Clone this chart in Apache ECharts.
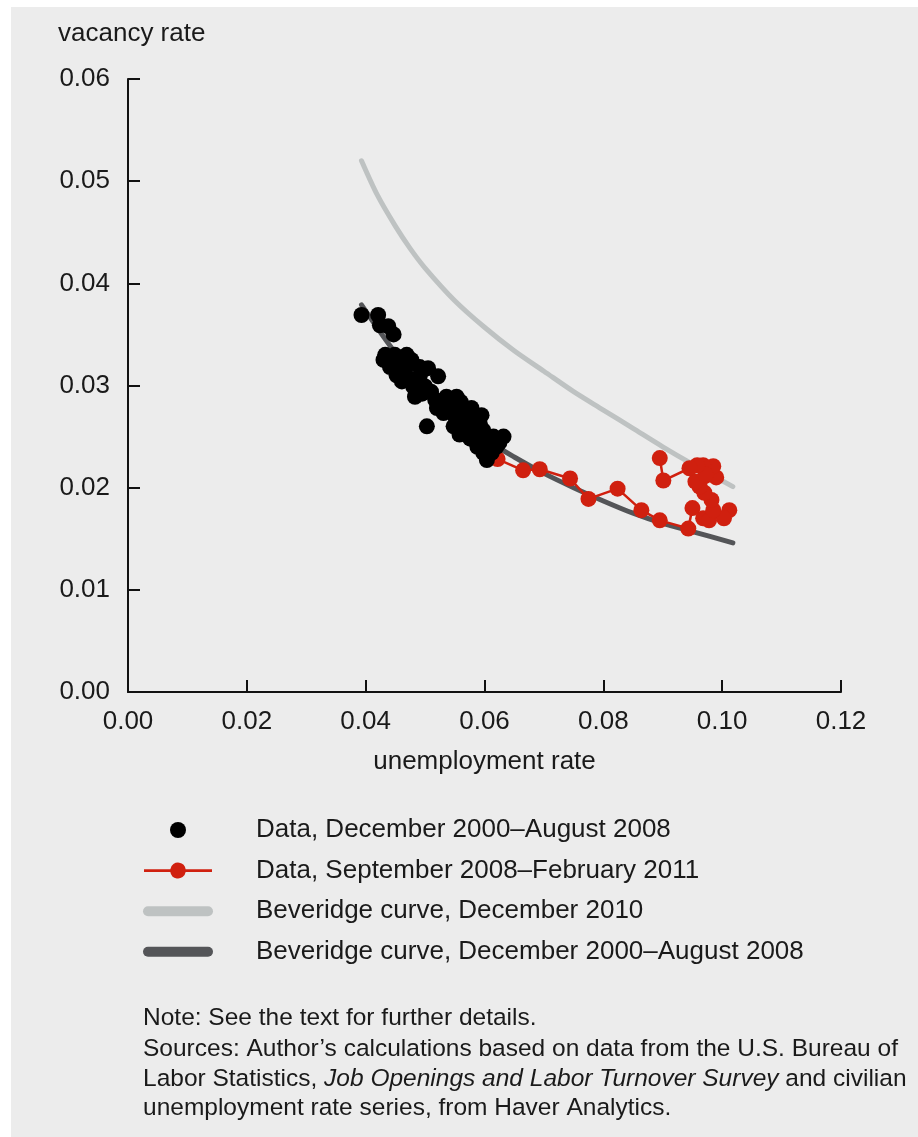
<!DOCTYPE html>
<html>
<head>
<meta charset="utf-8">
<script src="https://cdn.jsdelivr.net/npm/echarts@6/dist/echarts.min.js"></script>
<style>
html,body{margin:0;padding:0;background:#ffffff;}
#bg{position:absolute;left:11px;top:7px;width:907px;height:1130px;background:#ececec;}
#chart{position:absolute;left:0;top:0;width:918px;height:1137px;}
</style>
</head>
<body>
<div id="bg"></div>
<div id="chart"></div>
<script>
// ---- data ----
const seriesNames = [
  'Data, December 2000\u2013August 2008',
  'Data, September 2008\u2013February 2011',
  'Beveridge curve, December 2010',
  'Beveridge curve, December 2000\u2013August 2008'
];

// black points: unemployment rate, vacancy rate (Dec 2000 - Aug 2008)
const blackU = [0.0393,0.0421,0.0424,0.0438,0.0447,0.0433,0.0449,0.0469,0.0477,0.0441,0.0458,0.0491,0.0505,0.0469,0.0491,0.0522,0.0461,0.0480,0.0500,0.0483,0.0517,0.0536,0.0553,0.0520,0.0542,0.0562,0.0578,0.0531,0.0550,0.0576,0.0595,0.0592,0.0548,0.0564,0.0581,0.0598,0.0576,0.0592,0.0615,0.0632,0.0604,0.0620,0.0598,0.0612,0.0604,0.0503,
  0.0430,0.0455,0.0470,0.0452,0.0475,0.0495,0.0510,0.0528,0.0545,0.0560,0.0570,0.0585,0.0558,0.0572,0.0608,0.0625,0.0588];
const blackV = [0.0369,0.0369,0.0359,0.0358,0.0350,0.0330,0.0330,0.0330,0.0325,0.0318,0.0315,0.0318,0.0317,0.0309,0.0309,0.0309,0.0304,0.0299,0.0299,0.0289,0.0286,0.0289,0.0289,0.0278,0.0281,0.0278,0.0278,0.0273,0.0270,0.0271,0.0271,0.0263,0.0260,0.0256,0.0256,0.0256,0.0248,0.0247,0.0250,0.0250,0.0240,0.0240,0.0234,0.0234,0.0227,0.0260,
  0.0325,0.0322,0.0320,0.0310,0.0305,0.0292,0.0294,0.0282,0.0275,0.0284,0.0266,0.0266,0.0252,0.0260,0.0246,0.0244,0.0240];

// red points in time order (Sep 2008 - Feb 2011)
const redU = [0.0622,0.0665,0.0693,0.0744,0.0775,0.0824,0.0864,0.0895,0.0943,0.0950,0.0968,0.0978,0.1012,0.1003,0.0985,0.0982,0.0970,0.0962,0.0990,0.0985,0.0968,0.0955,0.0972,0.0958,0.0945,0.0901,0.0895];
const redV = [0.0228,0.0217,0.0218,0.0209,0.0189,0.0199,0.0178,0.0168,0.0160,0.0180,0.0170,0.0168,0.0178,0.0170,0.0178,0.0188,0.0195,0.0201,0.0210,0.0221,0.0222,0.0206,0.0213,0.0222,0.0219,0.0207,0.0229];

// Beveridge curve, December 2010 (light grey)
const lightU = [0.0393,0.0420,0.0450,0.0475,0.0500,0.0550,0.0600,0.0650,0.0700,0.0750,0.0800,0.0850,0.0900,0.0950,0.1018];
const lightV = [0.0520,0.0486,0.0456,0.0434,0.0415,0.0383,0.0357,0.0334,0.0314,0.0294,0.0276,0.0258,0.0240,0.0223,0.0201];

// Beveridge curve, December 2000 - August 2008 (dark grey)
const darkU = [0.0393,0.0450,0.0500,0.0550,0.0600,0.0650,0.0700,0.0750,0.0800,0.0850,0.0900,0.0950,0.1018];
const darkV = [0.0379,0.0332,0.0298,0.0271,0.0248,0.0230,0.0214,0.0200,0.0187,0.0175,0.0165,0.0157,0.0146];

const xAxisName = 'unemployment rate';
const yAxisName = 'vacancy rate';
const noteLines = [
  'Note: See the text for further details.',
  'Sources: Author\u2019s calculations based on data from the U.S. Bureau of',
  'Labor Statistics, {i|Job Openings and Labor Turnover Survey} and civilian',
  'unemployment rate series, from Haver Analytics.'
];

// ---- build ----
const zip = (a, b) => a.map((v, i) => [v, b[i]]);
const FONT = '"Liberation Sans", Arial, Helvetica, sans-serif';
const TXT = '#1a1a1a';
const RED = '#d0200f';

const chart = echarts.init(document.getElementById('chart'), null, {renderer: 'canvas'});

const stadium = 'path://M5,0 L65,0 A5,5 0 0 1 65,10 L5,10 A5,5 0 0 1 5,0 Z';
const lineDot = 'path://M0,6.5 L27.1,6.5 A8,8 0 0 1 42.9,6.5 L70,6.5 L70,9.5 L42.9,9.5 A8,8 0 0 1 27.1,9.5 L0,9.5 Z';

const option = {
  backgroundColor: 'transparent',
  animation: false,
  title: {
    text: yAxisName,
    left: 53, top: 16,
    textStyle: {fontFamily: FONT, fontSize: 26, fontWeight: 'normal', color: TXT}
  },
  grid: {left: 128, right: 77, top: 79, bottom: 445, containLabel: false},
  xAxis: {
    type: 'value', min: 0, max: 0.12, interval: 0.02,
    name: xAxisName, nameLocation: 'middle', nameGap: 57,
    nameTextStyle: {fontFamily: FONT, fontSize: 26, color: TXT},
    axisLine: {show: true, onZero: false, lineStyle: {color: '#111', width: 2}},
    axisTick: {show: true, inside: true, length: 12, lineStyle: {color: '#111', width: 2}},
    axisLabel: {margin: 17, fontFamily: FONT, fontSize: 26, color: TXT, formatter: v => v.toFixed(2)},
    splitLine: {show: false}
  },
  yAxis: {
    type: 'value', min: 0, max: 0.06, interval: 0.01,
    axisLine: {show: true, onZero: false, lineStyle: {color: '#111', width: 2}},
    axisTick: {show: true, inside: true, length: 12, lineStyle: {color: '#111', width: 2}},
    axisLabel: {margin: 18, fontFamily: FONT, fontSize: 26, color: TXT, formatter: v => v.toFixed(2)},
    splitLine: {show: false}
  },
  legend: {
    orient: 'vertical',
    left: 138, top: 812,
    itemWidth: 70, itemHeight: 16, itemGap: 14.6,
    selectedMode: false,
    textStyle: {fontFamily: FONT, fontSize: 26, color: TXT, lineHeight: 26, padding: [0, 0, 0, 38]},
    data: [
      {name: seriesNames[0], icon: 'circle'},
      {name: seriesNames[1], icon: lineDot},
      {name: seriesNames[2], icon: stadium},
      {name: seriesNames[3], icon: stadium}
    ]
  },
  graphic: noteLines.map((t, i) => ({
    type: 'text',
    left: 143,
    top: [1006, 1037, 1067, 1096][i],
    style: {
      text: t,
      font: '24.5px ' + FONT,
      fill: TXT,
      rich: {i: {fontStyle: 'italic', fontSize: 24.5, fontFamily: FONT, fill: TXT}}
    }
  })),
  series: [
    {
      name: seriesNames[2], type: 'line', data: zip(lightU, lightV),
      smooth: 0.3, symbol: 'none', z: 1,
      lineStyle: {color: '#bec2c2', width: 5, cap: 'round'},
      itemStyle: {color: '#bec2c2'}
    },
    {
      name: seriesNames[3], type: 'line', data: zip(darkU, darkV),
      smooth: 0.3, symbol: 'none', z: 2,
      lineStyle: {color: '#545558', width: 5, cap: 'round'},
      itemStyle: {color: '#545558'}
    },
    {
      name: seriesNames[1], type: 'line', data: zip(redU, redV),
      symbol: 'circle', symbolSize: 16, showSymbol: true, z: 3,
      lineStyle: {color: RED, width: 2.5},
      itemStyle: {color: RED}
    },
    {
      name: seriesNames[0], type: 'scatter', data: zip(blackU, blackV),
      symbol: 'circle', symbolSize: 16, z: 4,
      itemStyle: {color: '#000000', opacity: 1}
    }
  ]
};
chart.setOption(option);
</script>
</body>
</html>
